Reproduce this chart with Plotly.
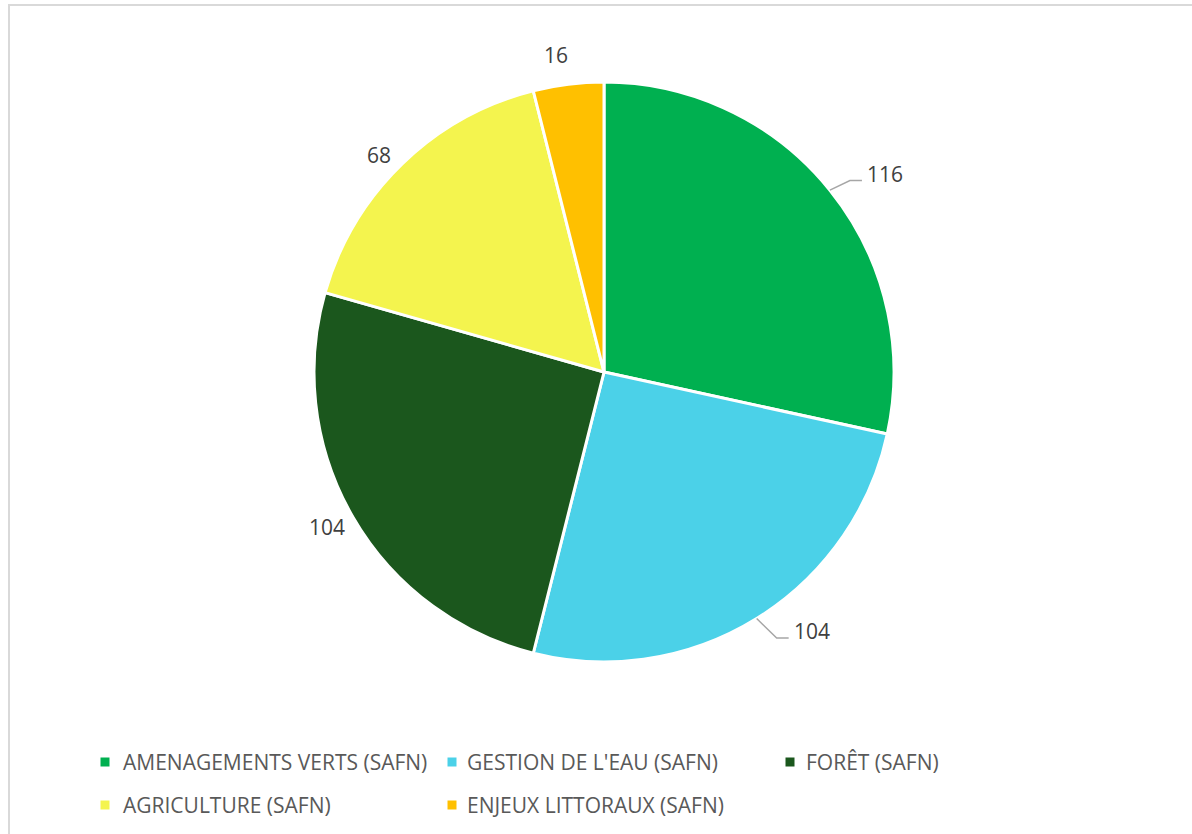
import math
import plotly.graph_objects as go

# Slice data
categories = [
    "AMENAGEMENTS VERTS (SAFN)",
    "GESTION DE L'EAU (SAFN)",
    "FORÊT (SAFN)",
    "AGRICULTURE (SAFN)",
    "ENJEUX LITTORAUX (SAFN)",
]
values = [116, 104, 104, 68, 16]
colors = ["#00B050", "#4BD1E8", "#1B571D", "#F4F44E", "#FFC000"]

# Page geometry (pixels)
W, H = 1192, 834
CX, CY, R = 604, 372, 290
FONT = "Open Sans"
LABEL_COLOR = "#404040"
LEGEND_COLOR = "#595959"
LABEL_SIZE = 21
LEGEND_SIZE = 21

# Label styling per slice: leader line flag and a small pixel nudge
with_leader = [True, True, False, False, False]
label_nudge = [(0, 0), (0, 0), (-2, -4), (-4, 11), (-9, -1)]


def px_x(x):
    return x / W


def px_y(y):
    return 1 - y / H


fig = go.Figure()
fig.add_trace(go.Pie(
    labels=categories,
    values=values,
    sort=False,
    direction="clockwise",
    rotation=0,
    marker=dict(colors=colors, line=dict(color="white", width=3)),
    textinfo="none",
    hoverinfo="label+value",
    showlegend=False,
    domain=dict(x=[px_x(CX - R), px_x(CX + R)], y=[px_y(CY + R), px_y(CY - R)]),
))

shapes = []
annotations = []

# Data labels placed from each slice's mid angle
total = sum(values)
cum = 0
for v, lead, (nx, ny) in zip(values, with_leader, label_nudge):
    mid = (cum + v / 2) / total * 2 * math.pi
    cum += v
    sx, sy = math.sin(mid), -math.cos(mid)
    if lead:
        ex, ey = CX + R * sx, CY + R * sy
        bx, by = ex + 20, ey + 12 * sy / sx
        tx = bx + 12
        shapes.append(dict(
            type="path", xref="paper", yref="paper",
            path=f"M {px_x(ex)} {px_y(ey)} L {px_x(bx)} {px_y(by)} L {px_x(tx)} {px_y(by)}",
            line=dict(color="#A6A6A6", width=1.5),
        ))
        annotations.append(dict(
            x=px_x(tx + 3 + nx), y=px_y(by - 7 + ny), xref="paper", yref="paper",
            text=str(v), showarrow=False, xanchor="left", yanchor="middle",
            font=dict(family=FONT, size=LABEL_SIZE, color=LABEL_COLOR),
        ))
    else:
        lx, ly = CX + (R + 28) * sx + nx, CY + (R + 28) * sy + ny
        annotations.append(dict(
            x=px_x(lx), y=px_y(ly), xref="paper", yref="paper",
            text=str(v), showarrow=False, xanchor="center", yanchor="middle",
            font=dict(family=FONT, size=LABEL_SIZE, color=LABEL_COLOR),
        ))

# Legend laid out in a three-column grid
legend_marker_x = [105, 452, 790]
legend_text_x = [121, 465, 804]
legend_rows = [762, 805]
for i, (name, col) in enumerate(zip(categories, colors)):
    mx = legend_marker_x[i % 3]
    my = legend_rows[i // 3]
    shapes.append(dict(
        type="rect", xref="paper", yref="paper",
        x0=px_x(mx - 4.5), x1=px_x(mx + 4.5), y0=px_y(my + 4.5), y1=px_y(my - 4.5),
        fillcolor=col, line=dict(width=0),
    ))
    annotations.append(dict(
        x=px_x(legend_text_x[i % 3]), y=px_y(my), xref="paper", yref="paper",
        text=name, showarrow=False, xanchor="left", yanchor="middle",
        font=dict(family=FONT, size=LEGEND_SIZE, color=LEGEND_COLOR),
    ))

# Chart frame
shapes.append(dict(type="line", xref="paper", yref="paper",
                   x0=px_x(8), x1=1, y0=px_y(5), y1=px_y(5),
                   line=dict(color="#D9D9D9", width=2)))
shapes.append(dict(type="line", xref="paper", yref="paper",
                   x0=px_x(9), x1=px_x(9), y0=px_y(5), y1=0,
                   line=dict(color="#D9D9D9", width=2)))

fig.update_layout(
    width=W, height=H,
    margin=dict(l=0, r=0, t=0, b=0),
    paper_bgcolor="white",
    plot_bgcolor="white",
    shapes=shapes,
    annotations=annotations,
    font=dict(family=FONT),
)

fig.write_html("out.html")
